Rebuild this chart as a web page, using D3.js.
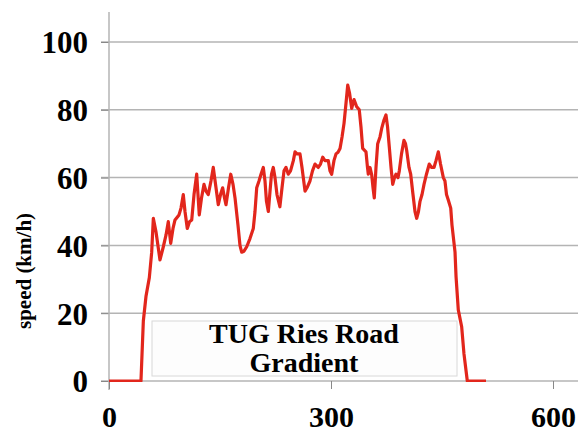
<!DOCTYPE html>
<html>
<head>
<meta charset="utf-8">
<script src="https://cdn.jsdelivr.net/npm/d3@7"></script>
<style>
  html, body { margin: 0; padding: 0; background: #fff; }
  svg { display: block; }
  text { font-family: "Liberation Serif", "Times New Roman", serif; font-weight: bold; fill: #000; }
</style>
</head>
<body>
<svg id="chart" width="578" height="435"></svg>
<script>
// Time (s) and speed (km/h) along the drive
const timeSec = [
  0, 43.2, 46.4, 50, 54.5, 57.7, 59.9, 63.5, 68.9, 73.4, 77, 80.1, 83.4, 86.5, 89.2, 94.6, 97.3,
  100.4, 102.7, 105.8, 108.8, 111.8, 114.9, 118.5, 122, 125, 128.4, 131.1, 134.2, 137.8, 140.9,
  144.6, 147.7, 150.7, 153.6, 156.1, 158.1, 161.5, 164.5, 167.6, 170.3, 174.3, 177, 179.3, 182.4,
  186.1, 190.5, 195, 197.3, 199.6, 202.7, 205.4, 208.5, 210.8, 212.8, 215.3, 217.6, 219.6, 222,
  224.3, 227, 230.9, 233.8, 236.5, 239.2, 242.3, 245.3, 249.1, 251.4, 254, 258.1, 260.8, 264.9,
  267.6, 271.6, 275, 278.4, 282.8, 285.8, 288.8, 291.9, 296.4, 298.6, 300.9, 304, 306.8, 309.5,
  312.2, 314.9, 317.6, 320.3, 322.6, 325, 328, 329.7, 331.1, 334.5, 338.2, 340.5, 342.8, 347.3,
  349.3, 350.4, 352.7, 355, 356.8, 358.5, 360.8, 363.1, 366.2, 368.5, 371.6, 374.3, 376.4, 378.8,
  381.1, 383.4, 385.8, 387.8, 390.5, 392.3, 395.3, 398.6, 400.7, 402.3, 405.4, 407.7, 410.8,
  413.5, 415.8, 418.2, 420.3, 423, 425.7, 429, 432.8, 435.8, 439.2, 441.9, 445, 448, 451.8, 454,
  456.1, 458.5, 461.8, 463.5, 467.6, 469, 472, 476.6, 479.7, 484.2, 509.5
];
const speedKmh = [
  0, 0, 17.7, 25, 30.5, 38, 48, 44, 35.7, 39.6, 43, 47, 40.6, 45, 47.5, 49, 51,
  55, 50, 45, 47, 47.5, 55, 61, 49, 54, 58, 56, 55, 59, 63,
  57, 52, 55, 57, 54, 52, 57, 61, 58, 54, 46, 40, 38, 38.3,
  39.6, 42, 45, 50, 57, 59, 61, 63, 59, 53, 50, 56, 61, 63,
  60, 55, 51.4, 57, 62, 63, 61, 62, 65, 67.6, 67, 67, 63, 56,
  57, 59, 62, 64, 63, 64, 66, 65, 65, 62, 61, 65, 67, 67.5,
  68.6, 72, 76, 82, 87.3, 85, 80.4, 82, 83, 81, 80, 75, 68.6, 67.6,
  63, 61, 63, 60.8, 57, 54, 63, 70, 72, 74.5, 77, 78.5, 75, 69,
  63, 58, 60, 61, 60, 62, 67, 71, 70, 68, 63, 61, 55,
  50, 48, 50, 53, 55, 58, 61, 64, 63, 63, 65, 67.6, 64, 60, 59,
  55, 53.4, 51, 46, 38, 30.7, 21, 16, 8, 0, 0
];
const xTicks = [0, 300, 600];
const yTicks = [0, 20, 40, 60, 80, 100];
const yLabel = "speed (km/h)";
const legendLines = ["TUG Ries Road", "Gradient"];

const svg = d3.select("#chart");
const x = d3.scaleLinear().domain([0, 600]).range([109, 553]);
const y = d3.scaleLinear().domain([0, 100]).range([381, 42]);

const gridColor = "#b4b4b4";

// horizontal grid lines
svg.append("g").selectAll("line").data(yTicks).join("line")
  .attr("x1", 101).attr("x2", 578)
  .attr("y1", d => y(d)).attr("y2", d => y(d))
  .attr("stroke", gridColor).attr("stroke-width", 1.5);

// y axis
const yAxis = svg.append("g").attr("transform", "translate(109,0)")
  .call(d3.axisLeft(y).tickValues(yTicks).tickSize(8).tickPadding(13).tickFormat(d3.format("d")));
yAxis.select(".domain").remove();
yAxis.selectAll(".tick line").attr("stroke", "#888").attr("stroke-width", 1);
yAxis.selectAll("text").attr("font-size", 31).attr("dy", "0.35em")
  .style("font-family", "'Liberation Serif', serif").style("font-weight", "bold");
svg.append("line").attr("x1", 109).attr("x2", 109).attr("y1", 12).attr("y2", 390)
  .attr("stroke", gridColor).attr("stroke-width", 1.5);

// x axis
const xAxis = svg.append("g").attr("transform", "translate(0,381)")
  .call(d3.axisBottom(x).tickValues(xTicks).tickSize(8).tickPadding(17).tickFormat(d3.format("d")));
xAxis.select(".domain").remove();
xAxis.selectAll(".tick line").attr("stroke", "#888").attr("stroke-width", 1);
xAxis.selectAll("text").attr("font-size", 30)
  .style("font-family", "'Liberation Serif', serif").style("font-weight", "bold");

// y axis title
svg.append("text")
  .attr("transform", "translate(31,271) rotate(-90)")
  .attr("text-anchor", "middle")
  .attr("font-size", 21)
  .text(yLabel);

// legend box
const legend = svg.append("g");
legend.append("rect")
  .attr("x", 152).attr("y", 321).attr("width", 305).attr("height", 55)
  .attr("fill", "#fdfdfd").attr("stroke", "#d8d8d8").attr("stroke-width", 1);
legend.selectAll("text").data(legendLines).join("text")
  .attr("x", 304).attr("y", (d, i) => 343 + i * 28.5)
  .attr("text-anchor", "middle").attr("font-size", 28)
  .text(d => d);

// speed trace
svg.append("clipPath").attr("id", "plotClip")
  .append("rect").attr("x", 109).attr("y", 0).attr("width", 469).attr("height", 382);
const pts = timeSec.map((t, i) => [t, speedKmh[i]]);
svg.append("path")
  .datum(pts)
  .attr("clip-path", "url(#plotClip)")
  .attr("fill", "none")
  .attr("stroke", "#e2261c")
  .attr("stroke-width", 3.2)
  .attr("stroke-linejoin", "round")
  .attr("d", d3.line().x(d => x(d[0])).y(d => y(d[1])));
</script>
</body>
</html>
